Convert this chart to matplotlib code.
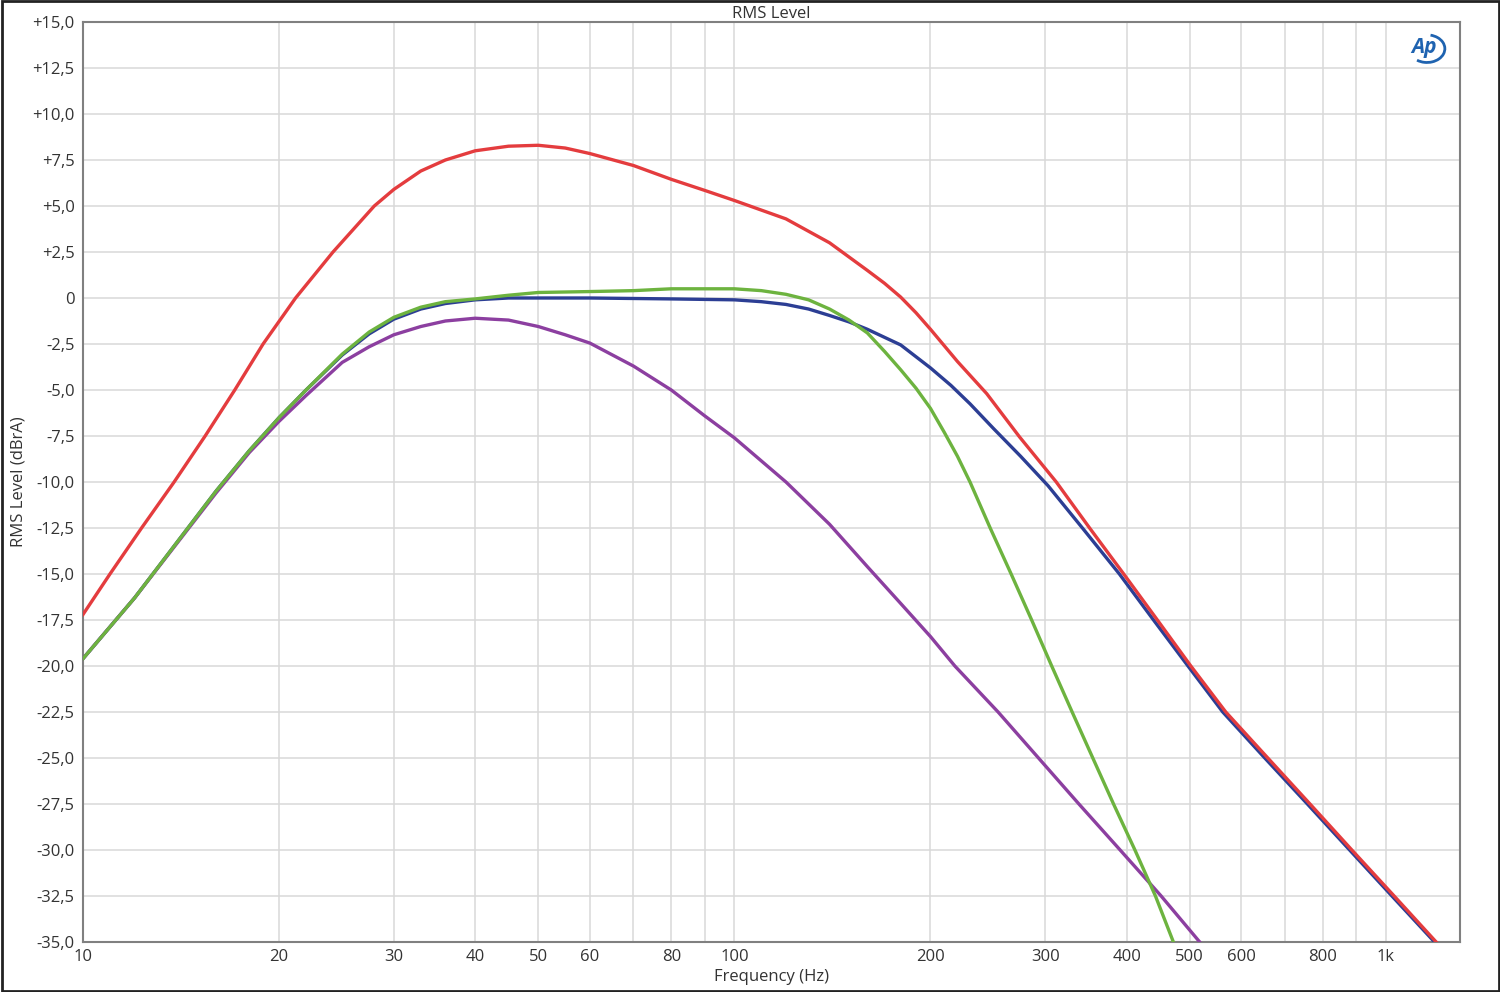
import matplotlib
matplotlib.use('Agg')
import matplotlib.pyplot as plt
from matplotlib.patches import Rectangle, Arc
from matplotlib.ticker import FixedLocator, FuncFormatter, NullLocator

plt.rcParams['font.family'] = ['Open Sans', 'DejaVu Sans']

# frequency (Hz) / level (dBrA)
red_f = [10, 11.0, 12.3, 13.8, 15.4, 17.1, 18.9, 21.2, 24.2, 28, 30, 33, 36, 40, 45, 50, 55, 60, 70, 80, 90,
         100, 120, 140, 160, 170, 180, 190, 200, 220, 244, 274, 312, 351, 396, 446, 502, 568, 659, 765, 887, 1030, 1195]
red_db = [-17.2, -15.0, -12.5, -10.0, -7.5, -5.0, -2.5, 0.0, 2.5, 5.0, 5.9, 6.9, 7.5, 8.0, 8.25, 8.3, 8.15, 7.85, 7.2, 6.45, 5.85,
          5.3, 4.3, 3.0, 1.5, 0.8, 0.05, -0.8, -1.7, -3.45, -5.2, -7.55, -10.0, -12.5, -15.0, -17.5, -20.0, -22.5, -25.0, -27.5, -30.0, -32.5, -35.0]

blue_f = [10, 12, 16, 18, 20, 22, 25, 27.5, 30, 33, 36, 40, 45, 50, 60, 80, 100, 110, 120, 130, 140, 150, 160, 180, 200,
          215, 230, 250, 275, 303, 344, 390, 440, 497, 562, 652, 758, 880, 1022, 1188]
blue_db = [-19.6, -16.3, -10.5, -8.3, -6.5, -5.0, -3.1, -1.95, -1.15, -0.6, -0.3, -0.1, 0.0, 0.0, 0.0, -0.05, -0.1, -0.2, -0.35, -0.6, -0.95, -1.3, -1.7, -2.55, -3.8,
           -4.75, -5.75, -7.1, -8.6, -10.2, -12.6, -15.0, -17.5, -20.0, -22.5, -25.0, -27.5, -30.0, -32.5, -35.0]

green_f = [10, 12, 16, 18, 20, 22, 25, 27.5, 30, 33, 36, 40, 45, 50, 60, 70, 80, 90, 100, 110, 120, 130, 140, 150, 160, 170, 180,
           190, 200, 210, 220, 230, 247, 266, 286, 307, 330, 355, 382, 412, 443, 472]
green_db = [-19.6, -16.3, -10.5, -8.3, -6.5, -5.0, -3.05, -1.85, -1.05, -0.5, -0.2, -0.05, 0.15, 0.3, 0.35, 0.4, 0.5, 0.5, 0.5, 0.4, 0.2, -0.1, -0.6, -1.2, -1.9, -2.9, -3.9,
            -4.9, -6.0, -7.3, -8.6, -10.0, -12.5, -15.0, -17.5, -20.0, -22.5, -25.0, -27.5, -30.0, -32.5, -35.0]

purple_f = [10, 12, 16, 18, 20, 22, 25, 27.5, 30, 33, 36, 40, 45, 50, 55, 60, 70, 80, 90, 100, 120, 140, 160, 180, 200,
            218, 254, 293, 338, 391, 452, 518]
purple_db = [-19.6, -16.3, -10.6, -8.4, -6.7, -5.3, -3.5, -2.65, -2.0, -1.55, -1.25, -1.1, -1.2, -1.55, -2.0, -2.45, -3.7, -5.0, -6.4, -7.6, -10.0, -12.3, -14.6, -16.6, -18.4,
             -20.0, -22.5, -25.0, -27.5, -30.0, -32.5, -35.0]

x_grid = [10, 20, 30, 40, 50, 60, 70, 80, 90, 100, 200, 300, 400, 500, 600, 700, 800, 900, 1000]
x_labels = {10: '10', 20: '20', 30: '30', 40: '40', 50: '50', 60: '60', 80: '80', 100: '100',
            200: '200', 300: '300', 400: '400', 500: '500', 600: '600', 800: '800', 1000: '1k'}
y_ticks = [15 - 2.5 * i for i in range(21)]

fig = plt.figure(figsize=(15, 9.92), dpi=100)
ax = fig.add_axes([83 / 1500, 1 - 942 / 992, 1377 / 1500, 920 / 992])

ax.plot(blue_f, blue_db, color='#2c3e94', lw=2.4, zorder=3)
ax.plot(purple_f, purple_db, color='#8c3fa0', lw=2.4, zorder=4)
ax.plot(green_f, green_db, color='#6db33f', lw=2.4, zorder=5)
ax.plot(red_f, red_db, color='#e43c3e', lw=2.4, zorder=6)

ax.set_xscale('log')
ax.set_xlim(10, 1300)
ax.set_ylim(-35, 15)
ax.xaxis.set_major_locator(FixedLocator(x_grid))
ax.xaxis.set_minor_locator(NullLocator())
ax.xaxis.set_major_formatter(FuncFormatter(lambda v, p: x_labels.get(int(round(v)), '')))
ax.set_yticks(y_ticks)


def yfmt(v, p):
    if abs(v) < 1e-9:
        return '0'
    return '{:+.1f}'.format(v).replace('.', ',')


ax.yaxis.set_major_formatter(FuncFormatter(yfmt))
ax.tick_params(length=0, labelsize=12, colors='#333333')
ax.tick_params(axis='y', pad=6)
ax.tick_params(axis='x', pad=5)
ax.grid(True, color='#d8d8d8', lw=1.1)
ax.set_axisbelow(True)
for s in ax.spines.values():
    s.set_color('#808080')
    s.set_linewidth(1.5)

ax.set_title('RMS Level', fontsize=12, color='#333333', pad=3)
ax.set_xlabel('Frequency (Hz)', fontsize=12, color='#333333', labelpad=3)
ax.set_ylabel('RMS Level (dBrA)', fontsize=12, color='#333333', labelpad=4)

# AP logo
ax.text(0.974, 0.972, 'Ap', transform=ax.transAxes, fontsize=15, fontweight='bold',
        fontstyle='italic', color='#1f63b0', ha='center', va='center', zorder=7)
ax.add_patch(Arc((0.976, 0.971), 0.026, 0.03, theta1=-120, theta2=80, transform=ax.transAxes,
                 color='#1f63b0', lw=2, zorder=7))

fig.patches.append(Rectangle((0.001, 0.001), 0.998, 0.998, transform=fig.transFigure,
                             fill=False, edgecolor='#222222', lw=2))

fig.savefig('out.png', dpi=100, facecolor='white')
